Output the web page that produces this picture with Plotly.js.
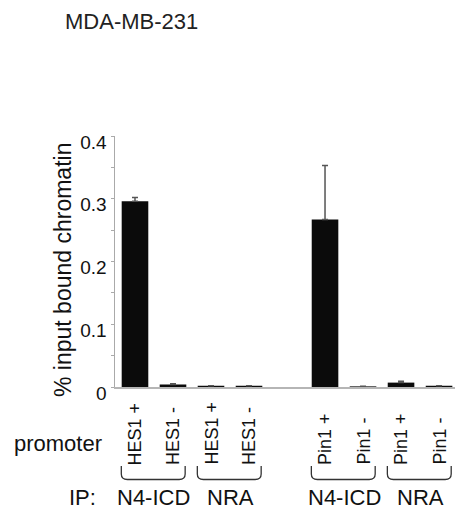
<!DOCTYPE html>
<html>
<head>
<meta charset="utf-8">
<script src="https://cdn.plot.ly/plotly-3.0.1.min.js"></script>
<style>html,body{margin:0;padding:0;background:#fff;}#chart{width:455px;height:510px;}</style>
</head>
<body>
<div id="chart"></div>
<script>
// ---- data ----
var promoterLabels = ["HES1 +", "HES1 -", "HES1 +", "HES1 -", "Pin1 +", "Pin1 -", "Pin1 +", "Pin1 -"];
var values = [0.296, 0.004, 0.002, 0.002, 0.267, 0.001, 0.007, 0.002];
var errors = [0.006, 0.001, 0, 0, 0.086, 0, 0.002, 0];
var ipGroups = ["N4-ICD", "NRA", "N4-ICD", "NRA"];
var yTicks = [0, 0.1, 0.2, 0.3, 0.4];
var yTickLabels = ["0", "0.1", "0.2", "0.3", "0.4"];

// ---- layout helpers ----
var FONT = "Liberation Sans, Arial, Helvetica, sans-serif";
var W = 455, H = 510, ML = 115, MR = 0, MT = 136, MB = 123;
var plotW = W - ML - MR, plotH = H - MT - MB;
function pyPaper(p) { return (H - MB - p) / plotH; }
function pxPaper(p) { return (p - ML) / plotW; }

// bar slot positions: two blocks of four with one empty slot between
var xpos = promoterLabels.map(function (_, i) { return i + (i >= 4 ? 1 : 0); });

var trace = {
  type: "bar",
  x: xpos,
  y: values,
  width: 0.7,
  marker: { color: "#0b0b0b", line: { width: 0 } },
  error_y: {
    type: "data", array: errors, symmetric: false,
    arrayminus: errors.map(function () { return 0; }),
    color: "#555", thickness: 1.5, width: 3
  },
  hoverinfo: "none"
};

var annotations = [];
var shapes = [];

// rotated promoter labels
promoterLabels.forEach(function (lab, i) {
  annotations.push({
    text: lab, x: xpos[i], xref: "x", y: pyPaper(467), yref: "paper",
    textangle: -90, xanchor: "center", yanchor: "bottom", showarrow: false,
    font: { family: FONT, size: 18, color: "#111" }
  });
});

// braces and IP group labels
ipGroups.forEach(function (g, k) {
  var a = xpos[2 * k], b = xpos[2 * k + 1];
  var x0 = a - 0.36, x1 = b + 0.32;
  var yt = pyPaper(466), ym = pyPaper(474), yb = pyPaper(479.5);
  var dx = 0.16;
  shapes.push({
    type: "path", xref: "x", yref: "paper",
    path: "M " + x0 + "," + yt + " L " + x0 + "," + ym +
          " Q " + x0 + "," + yb + " " + (x0 + dx) + "," + yb +
          " L " + (x1 - dx) + "," + yb +
          " Q " + x1 + "," + yb + " " + x1 + "," + ym +
          " L " + x1 + "," + yt,
    line: { color: "#333", width: 1.3 }
  });
  annotations.push({
    text: g, x: (a + b) / 2, xref: "x", y: pyPaper(497), yref: "paper",
    xanchor: "center", yanchor: "middle", showarrow: false,
    font: { family: FONT, size: 22, color: "#111" }
  });
});

annotations.push({
  text: "promoter", x: pxPaper(12), xref: "paper", y: pyPaper(443), yref: "paper",
  xanchor: "left", yanchor: "middle", showarrow: false,
  font: { family: FONT, size: 22, color: "#111" }
});
annotations.push({
  text: "IP:", x: pxPaper(67), xref: "paper", y: pyPaper(497), yref: "paper",
  xanchor: "left", yanchor: "middle", showarrow: false,
  font: { family: FONT, size: 22, color: "#111" }
});
annotations.push({
  text: "% input bound chromatin", x: pxPaper(63), xref: "paper", y: pyPaper(270), yref: "paper",
  textangle: -90, xanchor: "center", yanchor: "middle", showarrow: false,
  font: { family: FONT, size: 23, color: "#111" }
});

var layout = {
  width: W, height: H,
  margin: { l: ML, r: MR, t: MT, b: MB, pad: 0 },
  paper_bgcolor: "#fff", plot_bgcolor: "#fff",
  showlegend: false,
  title: {
    text: "MDA-MB-231", xref: "container", yref: "container",
    x: 65 / W, xanchor: "left", y: 1 - 21 / H, yanchor: "middle",
    font: { family: FONT, size: 22, color: "#222" }
  },
  xaxis: {
    range: [-0.526, 8.42], showgrid: false, zeroline: false,
    showticklabels: false, ticks: "", showline: true,
    linecolor: "#b5b5b5", linewidth: 2, fixedrange: true
  },
  yaxis: {
    range: [0, 0.4], showgrid: false, zeroline: false,
    tickmode: "array", tickvals: yTicks, ticktext: yTickLabels,
    ticks: "outside", ticklen: 3, tickcolor: "#aaa", tickwidth: 1,
    minor: { dtick: 0.05, ticks: "outside", ticklen: 3, tickcolor: "#aaa", tickwidth: 1, showgrid: false },
    showline: true, linecolor: "#aaa", linewidth: 1.5,
    ticklabelshift: 6,
    tickfont: { family: FONT, size: 19, color: "#111" },
    fixedrange: true
  },
  annotations: annotations,
  shapes: shapes
};

Plotly.newPlot("chart", [trace], layout, { staticPlot: true, displayModeBar: false });
</script>
</body>
</html>
